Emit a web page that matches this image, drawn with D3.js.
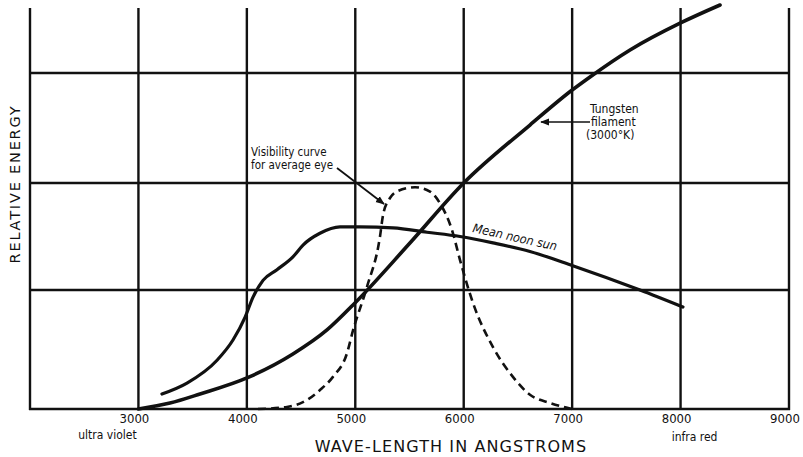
<!DOCTYPE html>
<html>
<head>
<meta charset="utf-8">
<script src="https://cdn.jsdelivr.net/npm/d3@7"></script>
<style>
  html, body { margin: 0; padding: 0; background: #fff; }
  svg { display: block; }
</style>
</head>
<body>
<svg id="chart" width="803" height="457"></svg>
<script>
// ---- data ----
const xTicks = [3000, 4000, 5000, 6000, 7000, 8000, 9000];
const xGrid = [2000, 3000, 4000, 5000, 6000, 7000, 8000, 9000];
const yGrid = [0, 1, 2, 3];

const tungstenWL = [3000, 3291, 3568, 4001, 4425, 4739, 4997, 5504, 6000, 6611, 7000, 7165, 7534, 8000, 8364];
const tungstenE  = [0, 0.05, 0.126, 0.261, 0.462, 0.664, 0.891, 1.439, 2.0, 2.527, 2.845, 2.964, 3.209, 3.455, 3.618];

const sunWL = [3217, 3448, 3725, 3872, 3983, 4057, 4149, 4278, 4425, 4518, 4674, 4859, 5043, 5348, 5661, 5966, 6270, 6611, 6999, 7626, 8022];
const sunE  = [0.126, 0.218, 0.41, 0.58, 0.77, 0.94, 1.09, 1.19, 1.31, 1.42, 1.53, 1.59, 1.59, 1.58, 1.54, 1.50, 1.44, 1.36, 1.23, 1.0, 0.857];

const visWL = [4103, 4370, 4555, 4675, 4794, 4924, 4979, 5108, 5228, 5256, 5320, 5394, 5551, 5689, 5781, 5892, 5966, 6086, 6270, 6454, 6611, 6796, 6999];
const visE  = [0, 0.017, 0.076, 0.16, 0.27, 0.47, 0.66, 1.03, 1.50, 1.70, 1.86, 1.925, 1.96, 1.92, 1.81, 1.56, 1.28, 0.89, 0.52, 0.27, 0.12, 0.05, 0];

// ---- scales ----
const x = d3.scaleLinear().domain([2000, 9000]).range([30, 789]);
const y = d3.scaleLinear().domain([0, 1, 2, 3]).range([409, 290, 183, 73]);
const yTop = 3.59;

const svg = d3.select("#chart");
const ink = "#111";

svg.append("defs").append("marker")
  .attr("id", "arrow").attr("viewBox", "0 0 10 10")
  .attr("refX", 9).attr("refY", 5)
  .attr("markerWidth", 9).attr("markerHeight", 9)
  .attr("markerUnits", "userSpaceOnUse")
  .attr("orient", "auto")
  .append("path").attr("d", "M0,1 L10,5 L0,9 Z").attr("fill", ink);

// ---- grid ----
const grid = svg.append("g").attr("stroke", ink).attr("stroke-width", 2.4);
grid.selectAll("line.v").data(xGrid).join("line").attr("class", "v")
  .attr("x1", d => x(d)).attr("x2", d => x(d))
  .attr("y1", y(yTop)).attr("y2", y(0) + 1);
grid.selectAll("line.h").data(yGrid).join("line").attr("class", "h")
  .attr("x1", x(2000) - 1).attr("x2", x(9000) + 1)
  .attr("y1", d => y(d)).attr("y2", d => y(d));

// ---- curves ----
const line = d3.line().x(d => x(d[0])).y(d => y(d[1])).curve(d3.curveMonotoneX);

svg.append("path").datum(d3.zip(tungstenWL, tungstenE))
  .attr("d", line).attr("fill", "none").attr("stroke", ink)
  .attr("stroke-width", 3.6).attr("stroke-linecap", "round");

svg.append("path").datum(d3.zip(sunWL, sunE))
  .attr("d", line).attr("fill", "none").attr("stroke", ink)
  .attr("stroke-width", 3.2).attr("stroke-linecap", "round");

svg.append("path").datum(d3.zip(visWL, visE))
  .attr("d", line).attr("fill", "none").attr("stroke", ink)
  .attr("stroke-width", 2.6).attr("stroke-dasharray", "8,5");

// ---- tick labels ----
const tickFont = "'Liberation Sans Narrow', 'DejaVu Sans Condensed', 'Liberation Sans', sans-serif";
svg.append("g").selectAll("text").data(xTicks).join("text")
  .attr("x", d => x(d) - 4).attr("y", 423)
  .attr("text-anchor", "middle")
  .attr("font-family", tickFont).attr("font-size", 13)
  .attr("fill", ink).text(d => d);

svg.append("text").attr("x", x(3000) - 31).attr("y", 439)
  .attr("text-anchor", "middle").attr("font-family", tickFont)
  .attr("font-size", 12).attr("fill", ink).text("ultra violet");
svg.append("text").attr("x", x(8000) + 14).attr("y", 441)
  .attr("text-anchor", "middle").attr("font-family", tickFont)
  .attr("font-size", 12).attr("fill", ink).text("infra red");

// ---- axis titles ----
const titleFont = "'DejaVu Sans', 'Liberation Sans', sans-serif";
svg.append("text").attr("x", 451).attr("y", 452)
  .attr("text-anchor", "middle").attr("font-family", titleFont)
  .attr("font-size", 16).attr("letter-spacing", 1.1)
  .attr("fill", ink).text("WAVE-LENGTH IN ANGSTROMS");

svg.append("text").attr("transform", "translate(20,184) rotate(-90)")
  .attr("text-anchor", "middle").attr("font-family", titleFont)
  .attr("font-size", 14.5).attr("letter-spacing", 1.8)
  .attr("fill", ink).text("RELATIVE ENERGY");

// ---- annotations ----
const noteFont = tickFont;
const tung = svg.append("text").attr("font-family", noteFont).attr("font-size", 12).attr("fill", ink);
tung.append("tspan").attr("x", 590).attr("y", 113).text("Tungsten");
tung.append("tspan").attr("x", 591).attr("y", 126).text("filament");
tung.append("tspan").attr("x", 586).attr("y", 139).text("(3000°K)");
svg.append("line").attr("x1", 590).attr("y1", 122).attr("x2", 541).attr("y2", 122)
  .attr("stroke", ink).attr("stroke-width", 1.6).attr("marker-end", "url(#arrow)");

const vis = svg.append("text").attr("font-family", noteFont).attr("font-size", 11.5).attr("fill", ink);
vis.append("tspan").attr("x", 251).attr("y", 156).text("Visibility curve");
vis.append("tspan").attr("x", 251).attr("y", 169).text("for average eye");
svg.append("line").attr("x1", 337).attr("y1", 168).attr("x2", 384).attr("y2", 204)
  .attr("stroke", ink).attr("stroke-width", 1.8).attr("marker-end", "url(#arrow)");

svg.append("text").attr("transform", "translate(472,232) rotate(12.5)")
  .attr("font-family", noteFont).attr("font-size", 12.5).attr("font-style", "italic")
  .attr("fill", ink).text("Mean noon sun");
</script>
</body>
</html>
